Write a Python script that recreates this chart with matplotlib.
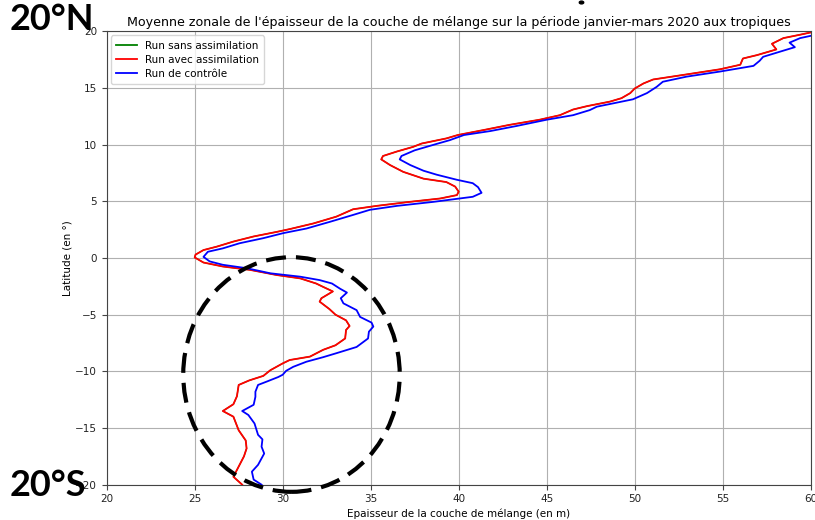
import matplotlib
matplotlib.use("Agg")
import matplotlib.pyplot as plt
from matplotlib.patches import Ellipse, Circle

# Latitude (deg) / mixed-layer thickness (m) for each run
lat_avec = [-20.0, -19.3, -18.7, -17.5, -16.8, -16.1, -15.2, -14.0, -13.5, -12.9,
            -12.2, -11.2, -10.8, -10.4, -9.9, -9.3, -9.0, -8.7, -8.1, -7.7,
            -7.1, -6.35, -6.0, -5.5, -5.0, -4.5, -3.85, -3.55, -2.95, -2.55,
            -2.25, -1.8, -1.5, -1.05, -0.75, -0.4, 0.05, 0.3, 0.7, 1.0,
            1.45, 1.9, 2.3, 2.55, 3.05, 3.65, 4.3, 4.6, 4.95, 5.25,
            5.55, 5.85, 6.3, 6.7, 7.0, 7.6, 8.2, 8.7, 9.0, 9.4,
            9.8, 10.1, 10.55, 10.85, 11.3, 11.75, 12.2, 12.6, 13.1, 13.4,
            13.8, 14.1, 14.55, 14.95, 15.4, 15.75, 16.15, 16.65, 17.05, 17.6,
            17.9, 18.4, 18.9, 19.4, 19.7, 19.9]
epaisseur_avec = [27.7, 27.2, 27.4, 27.8, 27.95, 27.9, 27.5, 27.2, 26.6, 27.2,
                  27.4, 27.5, 28.1, 28.9, 29.3, 30.0, 30.4, 31.55, 32.3, 33.0,
                  33.55, 33.6, 33.8, 33.6, 33.0, 32.65, 32.1, 32.2, 32.85, 32.3,
                  31.9, 31.0, 29.65, 28.15, 26.6, 25.5, 25.0, 25.05, 25.5, 26.25,
                  27.2, 28.35, 29.65, 30.4, 31.75, 33.05, 34.0, 35.35, 37.2, 38.95,
                  39.9, 40.0, 39.8, 39.3, 38.0, 36.85, 36.1, 35.6, 35.7, 36.5,
                  37.4, 37.9, 39.3, 39.95, 41.45, 42.9, 44.6, 45.75, 46.5, 47.3,
                  48.6, 49.25, 49.75, 50.0, 50.5, 51.05, 52.75, 54.85, 56.0, 56.15,
                  56.95, 58.05, 57.8, 58.45, 59.4, 60.0]

# The run without assimilation lies under the assimilated run
lat_sans = lat_avec
epaisseur_sans = epaisseur_avec

lat_controle = [-20.0, -19.55, -18.85, -18.25, -17.25, -16.65, -16.0, -15.6, -14.6, -13.85,
                -13.5, -12.95, -12.25, -11.8, -11.2, -10.9, -10.5, -10.3, -9.95, -9.6,
                -9.15, -8.75, -8.4, -7.85, -7.1, -6.5, -6.05, -5.7, -5.2, -4.6,
                -4.0, -3.55, -3.05, -2.7, -2.25, -1.95, -1.65, -1.35, -0.9, -0.6,
                -0.3, 0.1, 0.55, 0.85, 1.3, 1.75, 2.2, 2.6, 3.2, 3.8,
                4.25, 4.6, 4.95, 5.4, 5.75, 6.25, 6.6, 6.9, 7.35, 7.7,
                8.2, 8.7, 9.0, 9.5, 10.0, 10.4, 10.85, 11.2, 11.65, 12.2,
                12.6, 13.05, 13.35, 13.65, 14.0, 14.55, 15.1, 15.55, 16.0, 16.45,
                16.95, 17.4, 17.75, 18.2, 18.6, 19.0, 19.4, 19.6]
epaisseur_controle = [28.8, 28.35, 28.25, 28.6, 28.95, 28.8, 28.85, 28.6, 28.4, 28.05,
                      27.7, 28.35, 28.45, 28.45, 28.6, 29.1, 29.75, 30.0, 30.2, 30.6,
                      31.35, 32.3, 33.05, 34.2, 34.85, 34.9, 35.15, 35.05, 34.4, 34.2,
                      33.45, 33.3, 33.65, 33.25, 32.8, 32.1, 31.0, 29.3, 27.95, 26.6,
                      25.85, 25.5, 25.75, 26.6, 27.55, 28.9, 30.05, 31.35, 32.7, 34.0,
                      34.95, 36.5, 38.55, 40.8, 41.3, 41.1, 40.8, 39.9, 38.75, 38.0,
                      37.25, 36.65, 36.75, 37.5, 38.6, 39.5, 40.3, 41.8, 43.3, 45.0,
                      46.5, 47.45, 47.85, 48.8, 49.9, 50.7, 51.25, 51.6, 52.95, 54.85,
                      56.75, 57.1, 57.3, 58.25, 59.1, 58.8, 59.4, 60.0]

x_ticks = [20, 25, 30, 35, 40, 45, 50, 55, 60]
y_ticks = [-20, -15, -10, -5, 0, 5, 10, 15, 20]

fig = plt.figure(figsize=(8.15, 5.2), dpi=100)
ax = fig.add_axes([0.1309, 0.0679, 0.8638, 0.8719])

sans_line, = ax.plot(epaisseur_sans, lat_sans, color="green", lw=0.9)
ax.plot(epaisseur_avec, lat_avec, color="red", lw=1.3, label="Run avec assimilation")
ax.plot(epaisseur_controle, lat_controle, color="blue", lw=1.3, label="Run de contrôle")

ax.set_xlim(20, 60)
ax.set_ylim(-20, 20)
ax.set_xticks(x_ticks)
ax.set_yticks(y_ticks)
ax.tick_params(labelsize=7.5, color="#444444", labelcolor="#222222")
ax.grid(True, color="#b0b0b0", lw=0.8)
for s in ax.spines.values():
    s.set_color("#444444")

ax.set_title("Moyenne zonale de l'épaisseur de la couche de mélange sur la période janvier-mars 2020 aux tropiques",
             fontsize=9.05, pad=4)
ax.set_xlabel("Epaisseur de la couche de mélange (en m)", fontsize=7.5, labelpad=3)
ax.set_ylabel("Latitude (en °)", fontsize=7.5, labelpad=2)

# Legend entries share the same line width
handles, labels = ax.get_legend_handles_labels()
from matplotlib.lines import Line2D
handles = [Line2D([], [], color="green", lw=1.3)] + handles
labels = ["Run sans assimilation"] + labels
ax.legend(handles, labels, loc="upper left", fontsize=7.5, frameon=True,
          borderaxespad=0.4, handlelength=2.0, labelspacing=0.4, borderpad=0.5,
          fancybox=True)

# Highlight of the southern tropics
ring = Ellipse((30.5, -10.28), 12.3, 20.7, fill=False, edgecolor="black",
               lw=3.0, linestyle=(0, (4.8, 2.4)), clip_on=False, zorder=5)
ax.add_patch(ring)

fig.text(0.012, 0.995, "20°N", fontsize=26, fontweight="bold", family="Lato",
         ha="left", va="top", color="black")
fig.text(0.012, 0.035, "20°S", fontsize=26, fontweight="bold", family="Lato",
         ha="left", va="bottom", color="black")
fig.patches.append(Circle((581.5 / 815, 517.5 / 520), 2.2 / 815,
                          transform=fig.transFigure, color="black"))

fig.savefig("out.png", dpi=100)
